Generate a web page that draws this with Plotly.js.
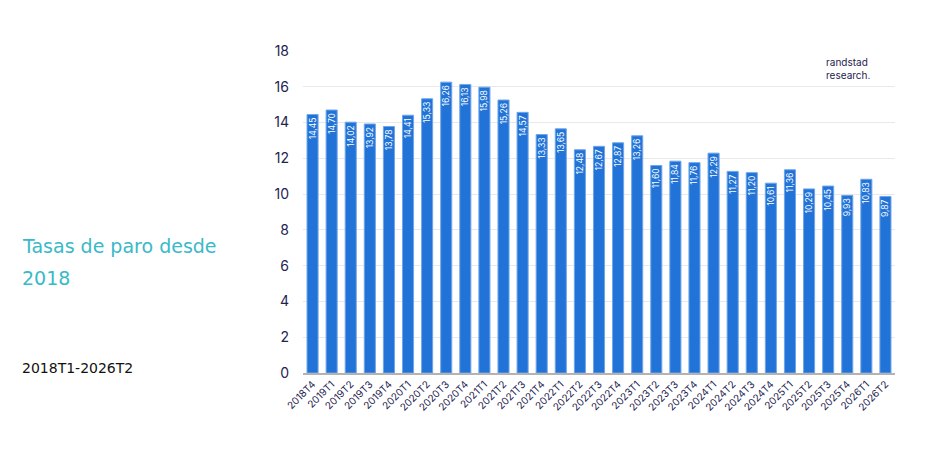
<!DOCTYPE html>
<html><head><meta charset="utf-8">
<script src="https://cdn.plot.ly/plotly-3.0.1.min.js"></script>
<style>html,body{margin:0;padding:0;background:#fff}#chart{width:942px;height:450px}</style>
</head><body><div id="chart"></div>
<script>
const categories = ["2018T4","2019T1","2019T2","2019T3","2019T4","2020T1","2020T2","2020T3","2020T4","2021T1","2021T2","2021T3","2021T4","2022T1","2022T2","2022T3","2022T4","2023T1","2023T2","2023T3","2023T4","2024T1","2024T2","2024T3","2024T4","2025T1","2025T2","2025T3","2025T4","2026T1","2026T2"];
const tasaParo = [14.45,14.70,14.02,13.92,13.78,14.41,15.33,16.26,16.13,15.98,15.26,14.57,13.33,13.65,12.48,12.67,12.87,13.26,11.60,11.84,11.76,12.29,11.27,11.20,10.61,11.36,10.29,10.45,9.93,10.83,9.87];
const yTicks = [0,2,4,6,8,10,12,14,16,18];

const labels = tasaParo.map(v => v.toFixed(2).replace('.', ','));

const W = 592, H = 322, L = 303, T = 51;
const px = x => (x - L) / W;
const py = y => (T + H - y) / H;

const trace = {
  type: 'bar', x: categories, y: tasaParo,
  text: labels, textposition: 'inside', insidetextanchor: 'end', textangle: -90,
  constraintext: 'none',
  textfont: {family: 'Inter, Roboto, sans-serif', size: 8.5, color: '#ffffff'},
  marker: {color: '#2173d8', line: {color: '#6fa6ea', width: 1}},
  hoverinfo: 'none', cliponaxis: false
};
const layout = {
  width: 942, height: 450,
  margin: {l: L, r: 942 - L - W, t: T, b: 450 - T - H},
  paper_bgcolor: '#fff', plot_bgcolor: '#fff',
  bargap: 0.42, showlegend: false,
  xaxis: {type: 'category', tickangle: -45, tickfont: {family: 'Inter, Roboto, sans-serif', size: 10, color: '#1e2350'},
    showgrid: false, showline: true, linecolor: '#b3b3b3', linewidth: 1.5, ticks: '', automargin: false},
  yaxis: {range: [0, 18], tickvals: yTicks, ticktext: yTicks.map(String),
    tickfont: {family: 'Inter, Roboto, sans-serif', size: 14, color: '#1e2350'},
    gridcolor: '#e9e9e9', gridwidth: 1, zeroline: false, showline: false, ticks: '', ticklabelstandoff: 13, automargin: false},
  annotations: [
    {text: 'Tasas de paro desde', xref: 'paper', yref: 'paper', x: px(20), y: py(246), xanchor: 'left', yanchor: 'middle', align: 'left', showarrow: false,
     font: {family: 'DejaVu Sans', size: 19, color: '#3ab9c9'}},
    {text: '2018', xref: 'paper', yref: 'paper', x: px(20), y: py(278), xanchor: 'left', yanchor: 'middle', align: 'left', showarrow: false,
     font: {family: 'DejaVu Sans', size: 19, color: '#3ab9c9'}},
    {text: '2018T1-2026T2', xref: 'paper', yref: 'paper', x: px(20), y: py(368), xanchor: 'left', yanchor: 'middle', align: 'left', showarrow: false,
     font: {family: 'DejaVu Sans', size: 14, color: '#111111'}},
    {text: 'randstad<br>research.', xref: 'paper', yref: 'paper', x: px(824), y: py(68), xanchor: 'left', yanchor: 'middle', align: 'left', showarrow: false,
     font: {family: 'Inter, Roboto, sans-serif', size: 10, color: '#1e2350'}}
  ]
};
Plotly.newPlot('chart', [trace], layout, {staticPlot: true, displayModeBar: false});
</script></body></html>
